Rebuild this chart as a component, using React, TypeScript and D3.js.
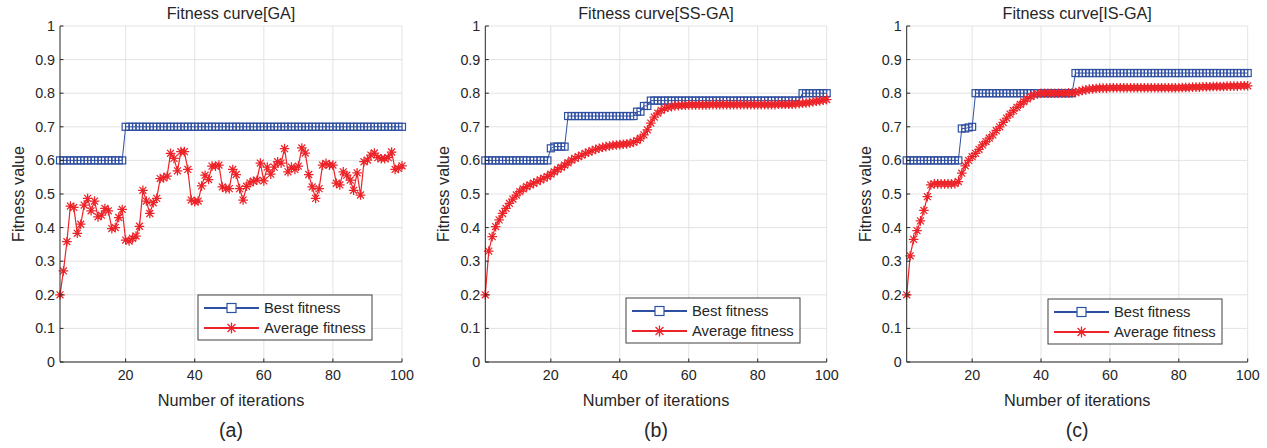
import * as d3 from "d3";

// iterations 1..100
const iterations = d3.range(1, 101);

const xTicks = [20, 40, 60, 80, 100];
const yTicks = [0, 0.1, 0.2, 0.3, 0.4, 0.5, 0.6, 0.7, 0.8, 0.9, 1];
const yTickLabels = ["0", "0.1", "0.2", "0.3", "0.4", "0.5", "0.6", "0.7", "0.8", "0.9", "1"];
const seriesNames = ["Best fitness", "Average fitness"];
const titles = ["Fitness curve[GA]", "Fitness curve[SS-GA]", "Fitness curve[IS-GA]"];
const tags = ["(a)", "(b)", "(c)"];

// (a) GA
const gaBest = [
  0.6, 0.6, 0.6, 0.6, 0.6, 0.6, 0.6, 0.6, 0.6, 0.6,
  0.6, 0.6, 0.6, 0.6, 0.6, 0.6, 0.6, 0.6, 0.6, 0.7,
  0.7, 0.7, 0.7, 0.7, 0.7, 0.7, 0.7, 0.7, 0.7, 0.7,
  0.7, 0.7, 0.7, 0.7, 0.7, 0.7, 0.7, 0.7, 0.7, 0.7,
  0.7, 0.7, 0.7, 0.7, 0.7, 0.7, 0.7, 0.7, 0.7, 0.7,
  0.7, 0.7, 0.7, 0.7, 0.7, 0.7, 0.7, 0.7, 0.7, 0.7,
  0.7, 0.7, 0.7, 0.7, 0.7, 0.7, 0.7, 0.7, 0.7, 0.7,
  0.7, 0.7, 0.7, 0.7, 0.7, 0.7, 0.7, 0.7, 0.7, 0.7,
  0.7, 0.7, 0.7, 0.7, 0.7, 0.7, 0.7, 0.7, 0.7, 0.7,
  0.7, 0.7, 0.7, 0.7, 0.7, 0.7, 0.7, 0.7, 0.7, 0.7,
];
const gaAvg = [
  0.2, 0.271, 0.358, 0.464, 0.46, 0.383, 0.41, 0.467, 0.487, 0.45,
  0.479, 0.432, 0.437, 0.457, 0.45, 0.397, 0.4, 0.43, 0.454, 0.363,
  0.36, 0.368, 0.375, 0.404, 0.511, 0.479, 0.442, 0.474, 0.487, 0.546,
  0.548, 0.553, 0.621, 0.606, 0.569, 0.626, 0.626, 0.573, 0.482, 0.477,
  0.479, 0.524, 0.556, 0.543, 0.583, 0.583, 0.586, 0.521, 0.516, 0.516,
  0.573, 0.558, 0.516, 0.482, 0.523, 0.533, 0.538, 0.541, 0.592, 0.539,
  0.58, 0.559, 0.58, 0.596, 0.592, 0.635, 0.566, 0.58, 0.573, 0.583,
  0.637, 0.622, 0.558, 0.521, 0.487, 0.516, 0.586, 0.591, 0.586, 0.586,
  0.532, 0.527, 0.566, 0.556, 0.541, 0.511, 0.563, 0.497, 0.596, 0.601,
  0.616, 0.622, 0.608, 0.605, 0.605, 0.608, 0.625, 0.573, 0.576, 0.584,
];

// (b) SS-GA
const ssBest = [
  0.6, 0.6, 0.6, 0.6, 0.6, 0.6, 0.6, 0.6, 0.6, 0.6,
  0.6, 0.6, 0.6, 0.6, 0.6, 0.6, 0.6, 0.6, 0.6, 0.636,
  0.641, 0.641, 0.641, 0.641, 0.732, 0.732, 0.732, 0.732, 0.732, 0.732,
  0.732, 0.732, 0.732, 0.732, 0.732, 0.732, 0.732, 0.732, 0.732, 0.732,
  0.732, 0.732, 0.732, 0.732, 0.745, 0.745, 0.762, 0.762, 0.778, 0.778,
  0.778, 0.778, 0.778, 0.778, 0.778, 0.778, 0.778, 0.778, 0.778, 0.778,
  0.778, 0.778, 0.778, 0.778, 0.778, 0.778, 0.778, 0.778, 0.778, 0.778,
  0.778, 0.778, 0.778, 0.778, 0.778, 0.778, 0.778, 0.778, 0.778, 0.778,
  0.778, 0.778, 0.778, 0.778, 0.778, 0.778, 0.778, 0.778, 0.778, 0.778,
  0.778, 0.778, 0.8, 0.8, 0.8, 0.8, 0.8, 0.8, 0.8, 0.8,
];
const ssAvg = [
  0.2, 0.33, 0.373, 0.403, 0.423, 0.442, 0.457, 0.472, 0.485, 0.497,
  0.507, 0.515, 0.522, 0.527, 0.532, 0.537, 0.542, 0.547, 0.552, 0.559,
  0.566, 0.573, 0.579, 0.586, 0.593, 0.601, 0.606, 0.611, 0.616, 0.621,
  0.625, 0.629, 0.633, 0.636, 0.639, 0.641, 0.643, 0.645, 0.646, 0.647,
  0.648, 0.649, 0.651, 0.654, 0.659, 0.666, 0.676, 0.691, 0.711, 0.729,
  0.741, 0.749, 0.755, 0.758, 0.76, 0.762, 0.763, 0.764, 0.764, 0.765,
  0.765, 0.765, 0.765, 0.765, 0.765, 0.766, 0.766, 0.766, 0.766, 0.766,
  0.766, 0.766, 0.766, 0.766, 0.766, 0.766, 0.766, 0.766, 0.766, 0.766,
  0.766, 0.766, 0.766, 0.766, 0.766, 0.767, 0.767, 0.767, 0.767, 0.767,
  0.768, 0.769, 0.77, 0.771, 0.772, 0.774, 0.776, 0.777, 0.779, 0.781,
];

// (c) IS-GA
const isBest = [
  0.6, 0.6, 0.6, 0.6, 0.6, 0.6, 0.6, 0.6, 0.6, 0.6,
  0.6, 0.6, 0.6, 0.6, 0.6, 0.6, 0.695, 0.695, 0.698, 0.7,
  0.8, 0.8, 0.8, 0.8, 0.8, 0.8, 0.8, 0.8, 0.8, 0.8,
  0.8, 0.8, 0.8, 0.8, 0.8, 0.8, 0.8, 0.8, 0.8, 0.8,
  0.8, 0.8, 0.8, 0.8, 0.8, 0.8, 0.8, 0.8, 0.8, 0.86,
  0.86, 0.86, 0.86, 0.86, 0.86, 0.86, 0.86, 0.86, 0.86, 0.86,
  0.86, 0.86, 0.86, 0.86, 0.86, 0.86, 0.86, 0.86, 0.86, 0.86,
  0.86, 0.86, 0.86, 0.86, 0.86, 0.86, 0.86, 0.86, 0.86, 0.86,
  0.86, 0.86, 0.86, 0.86, 0.86, 0.86, 0.86, 0.86, 0.86, 0.86,
  0.86, 0.86, 0.86, 0.86, 0.86, 0.86, 0.86, 0.86, 0.86, 0.86,
];
const isAvg = [
  0.2, 0.316, 0.365, 0.391, 0.42, 0.451, 0.492, 0.527, 0.53, 0.53,
  0.53, 0.53, 0.53, 0.53, 0.531, 0.537, 0.562, 0.584, 0.6, 0.611,
  0.621, 0.633, 0.646, 0.656, 0.666, 0.676, 0.689, 0.7, 0.713, 0.726,
  0.738, 0.748, 0.758, 0.767, 0.775, 0.783, 0.79, 0.795, 0.798, 0.8,
  0.8, 0.8, 0.8, 0.8, 0.8, 0.8, 0.8, 0.801, 0.801, 0.802,
  0.805, 0.808, 0.81, 0.812, 0.813, 0.814, 0.815, 0.815, 0.815, 0.816,
  0.816, 0.816, 0.816, 0.816, 0.816, 0.816, 0.816, 0.816, 0.816, 0.816,
  0.816, 0.816, 0.816, 0.816, 0.816, 0.816, 0.816, 0.816, 0.816, 0.816,
  0.817, 0.817, 0.817, 0.818, 0.818, 0.818, 0.819, 0.819, 0.819, 0.82,
  0.82, 0.82, 0.82, 0.821, 0.821, 0.821, 0.821, 0.822, 0.822, 0.822,
];

const BLUE = "#2f4fa2";
const RED = "#ec2328";
const FONT = "'Liberation Sans', Arial, sans-serif";
const TXT = "#262626";

const top = 26, bottom = 362;

const layout = [
  { left: 60, right: 402, legX: 198, legY: 295, yLabX: 24 },
  { left: 485.3, right: 826.7, legX: 626, legY: 298, yLabX: 449 },
  { left: 906.7, right: 1247.7, legX: 1048, legY: 299, yLabX: 870.5 },
];

function starPath(cx: number, cy: number, r: number) {
  const d = r * 0.72;
  return `M${cx - r},${cy}L${cx + r},${cy}M${cx},${cy - r}L${cx},${cy + r}` +
    `M${cx - d},${cy - d}L${cx + d},${cy + d}M${cx - d},${cy + d}L${cx + d},${cy - d}`;
}

function Panel({ idx, best, avg }: { idx: number; best: number[]; avg: number[] }) {
  const L = layout[idx];
  const x = d3.scaleLinear().domain([1, 100]).range([L.left, L.right]);
  const y = d3.scaleLinear().domain([0, 1]).range([bottom, top]);
  const line = d3.line<number>().x((_, i) => x(iterations[i])).y((d) => y(d));
  const sq = 7;
  const stars = avg.map((v, i) => starPath(x(iterations[i]), y(v), 4.8)).join("");
  const cx = (L.left + L.right) / 2;
  const lw = 174, lh = 45;

  return (
    <g>
      {/* grid */}
      {yTicks.map((t) => (
        <line key={"gy" + t} x1={L.left} x2={L.right} y1={y(t)} y2={y(t)} stroke="#e3e3e3" strokeWidth={1} />
      ))}
      {xTicks.map((t) => (
        <line key={"gx" + t} x1={x(t)} x2={x(t)} y1={top} y2={bottom} stroke="#e3e3e3" strokeWidth={1} />
      ))}
      {/* series */}
      <path d={line(best) ?? ""} fill="none" stroke={BLUE} strokeWidth={1} />
      {best.map((v, i) => (
        <rect key={"s" + i} x={x(iterations[i]) - sq / 2} y={y(v) - sq / 2} width={sq} height={sq}
          fill="none" stroke={BLUE} strokeWidth={1.2} />
      ))}
      <path d={line(avg) ?? ""} fill="none" stroke={RED} strokeWidth={1.2} />
      <path d={stars} fill="none" stroke={RED} strokeWidth={1.25} />
      {/* axes */}
      <line x1={L.left} x2={L.left} y1={top} y2={bottom} stroke={TXT} strokeWidth={1} />
      <line x1={L.left} x2={L.right} y1={bottom} y2={bottom} stroke={TXT} strokeWidth={1} />
      {yTicks.map((t, i) => (
        <g key={"ty" + t}>
          <line x1={L.left} x2={L.left + 3.5} y1={y(t)} y2={y(t)} stroke={TXT} />
          <text x={L.left - 5} y={y(t) + 5} textAnchor="end" fontSize={14.3} fill={TXT} fontFamily={FONT}>
            {yTickLabels[i]}
          </text>
        </g>
      ))}
      {xTicks.map((t) => (
        <g key={"tx" + t}>
          <line x1={x(t)} x2={x(t)} y1={bottom} y2={bottom - 3.5} stroke={TXT} />
          <text x={x(t)} y={380} textAnchor="middle" fontSize={14.3} fill={TXT} fontFamily={FONT}>
            {t}
          </text>
        </g>
      ))}
      {/* labels */}
      <text x={cx} y={19} textAnchor="middle" fontSize={16.2} fill={TXT} fontFamily={FONT}>{titles[idx]}</text>
      <text x={cx} y={405.5} textAnchor="middle" fontSize={16.3} fill={TXT} fontFamily={FONT}>Number of iterations</text>
      <text transform={`translate(${L.yLabX},${(top + bottom) / 2}) rotate(-90)`} textAnchor="middle"
        fontSize={16.3} fill={TXT} fontFamily={FONT}>Fitness value</text>
      <text x={cx} y={437} textAnchor="middle" fontSize={19.5} fill={TXT} fontFamily={FONT}>{tags[idx]}</text>
      {/* legend */}
      <g transform={`translate(${L.legX},${L.legY})`}>
        <rect x={0} y={0} width={lw} height={lh} fill="#fff" stroke="#404040" strokeWidth={1} />
        <line x1={6} x2={61} y1={13} y2={13} stroke={BLUE} strokeWidth={2} />
        <rect x={33.5 - 4.5} y={13 - 4.5} width={9} height={9} fill="#fff" stroke={BLUE} strokeWidth={1.2} />
        <text x={66} y={18} fontSize={14.8} fill={TXT} fontFamily={FONT}>{seriesNames[0]}</text>
        <line x1={6} x2={61} y1={33} y2={33} stroke={RED} strokeWidth={2} />
        <path d={starPath(33.5, 33, 5.5)} stroke={RED} strokeWidth={1.3} fill="none" />
        <text x={66} y={38} fontSize={14.8} fill={TXT} fontFamily={FONT}>{seriesNames[1]}</text>
      </g>
    </g>
  );
}

export default function App() {
  return (
    <svg width={1267} height={448} style={{ position: "absolute", left: 0, top: 0, background: "#fff" }}>
      <Panel idx={0} best={gaBest} avg={gaAvg} />
      <Panel idx={1} best={ssBest} avg={ssAvg} />
      <Panel idx={2} best={isBest} avg={isAvg} />
    </svg>
  );
}
